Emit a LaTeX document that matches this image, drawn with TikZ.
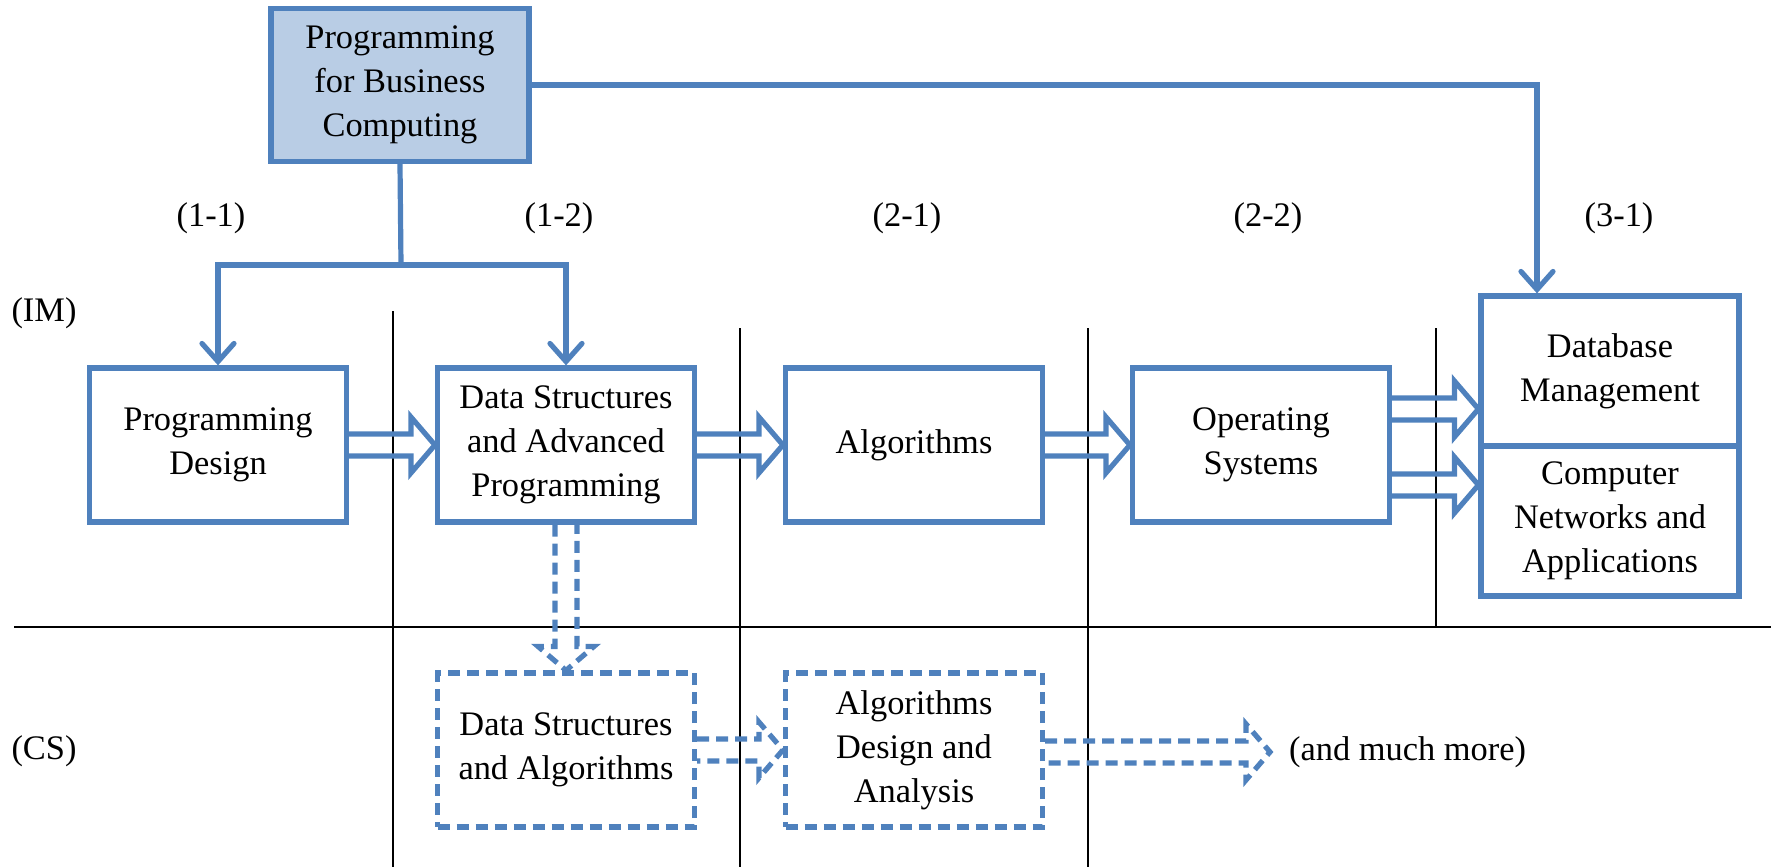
\documentclass[tikz,border=0pt]{standalone}
\usepackage{fontspec}
\setmainfont{Liberation Serif}
\usetikzlibrary{arrows.meta,calc}

\definecolor{courseblue}{HTML}{4F81BD}
\definecolor{coursefill}{HTML}{B9CDE5}

% hollow block arrows, from #2 to #3
\newcommand{\harrow}[3][]{%
  \draw[fatarrow,#1] ($(#2)+(0pt,5.5pt)$) -- ($(#3)+(-12pt,5.5pt)$) -- ($(#3)+(-12pt,14pt)$) -- (#3)
    -- ($(#3)+(-12pt,-14pt)$) -- ($(#3)+(-12pt,-5.5pt)$) -- ($(#2)+(0pt,-5.5pt)$);}
\newcommand{\varrow}[3][]{%
  \draw[fatarrow,#1] ($(#2)+(-5.5pt,0pt)$) -- ($(#3)+(-5.5pt,12pt)$) -- ($(#3)+(-14pt,12pt)$) -- (#3)
    -- ($(#3)+(14pt,12pt)$) -- ($(#3)+(5.5pt,12pt)$) -- ($(#2)+(5.5pt,0pt)$);}

\begin{document}
\begin{tikzpicture}[x=0.5pt, y=-0.5pt,
    font=\fontsize{17.2}{22}\selectfont,
    course/.style={draw=courseblue, line width=2.6pt, align=center, minimum width=128.5pt, minimum height=77pt, inner sep=2pt},
    later/.style={course, dash pattern=on 6pt off 3.5pt},
    conn/.style={draw=courseblue, line width=2.6pt, -{Straight Barb[length=9pt,width=16pt,line cap=round]}},
    fatarrow/.style={draw=courseblue, line width=2.6pt},
    sep/.style={line width=0.75pt}]
    \useasboundingbox (0,0) rectangle (1771,867);

    % grid
    \draw[sep] (14,627) -- (1771,627);
    \draw[sep] (393,311) -- (393,867);
    \draw[sep] (740,328) -- (740,867);
    \draw[sep] (1088,328) -- (1088,867);
    \draw[sep] (1436,328) -- (1436,627);

    % semesters and tracks
    \node (s11) at (211,218) {(1-1)};
    \node (s12) at (559,218) {(1-2)};
    \node (s21) at (907,218) {(2-1)};
    \node (s22) at (1268,218) {(2-2)};
    \node (s31) at (1619,218) {(3-1)};
    \node (im) at (44,313) {(IM)};
    \node (cs) at (44,751) {(CS)};

    % courses
    \node[course, fill=coursefill, minimum width=129pt, minimum height=76.5pt] (pbc) at (400,85) {Programming\\for Business\\Computing};
    \node[course] (pd) at (218,445) {Programming\\Design};
    \node[course] (dsap) at (566,445) {Data Structures\\and Advanced\\Programming};
    \node[course] (alg) at (914,445) {Algorithms};
    \node[course] (os) at (1261,445) {Operating\\Systems};
    \node[course, minimum width=129pt, minimum height=75pt] (db) at (1610,371) {Database\\Management};
    \node[course, minimum width=129pt, minimum height=75pt] (cn) at (1610,521) {Computer\\Networks and\\Applications};
    \node[later] (dsa) at (566,750) {Data Structures\\and Algorithms};
    \node[later] (ada) at (914,750) {Algorithms\\Design and\\Analysis};
    \node[anchor=west] (more) at (1282,752) {(and much more)};

    % prerequisites
    \coordinate (split) at (401,265);
    \coordinate (dbin) at ($(db.north)+(-36.5pt,0pt)$);
    \draw[fatarrow] (pbc.south) -- (split);
    \draw[conn] (split) -| (pd.north);
    \draw[conn] (split) -| (dsap.north);
    \draw[conn] (pbc.east) -| (dbin);

    \harrow{pd.east}{dsap.west}
    \harrow{dsap.east}{alg.west}
    \harrow{alg.east}{os.west}
    \coordinate (osa) at ($(os.east)+(0pt,18pt)$);
    \coordinate (osb) at ($(os.east)+(0pt,-20pt)$);
    \coordinate (dba) at (db.west |- osa);
    \coordinate (cnb) at (cn.west |- osb);
    \harrow{osa}{dba}
    \harrow{osb}{cnb}

    \varrow[dash pattern=on 6pt off 3.5pt]{dsap.south}{dsa.north}
    \harrow[dash pattern=on 6pt off 3.5pt]{dsa.east}{ada.west}
    \coordinate (moretip) at ($(more.west)+(-6pt,0pt)$);
    \coordinate (adaout) at (ada.east |- moretip);
    \harrow[dash pattern=on 6pt off 3.5pt]{adaout}{moretip}
\end{tikzpicture}
\end{document}
